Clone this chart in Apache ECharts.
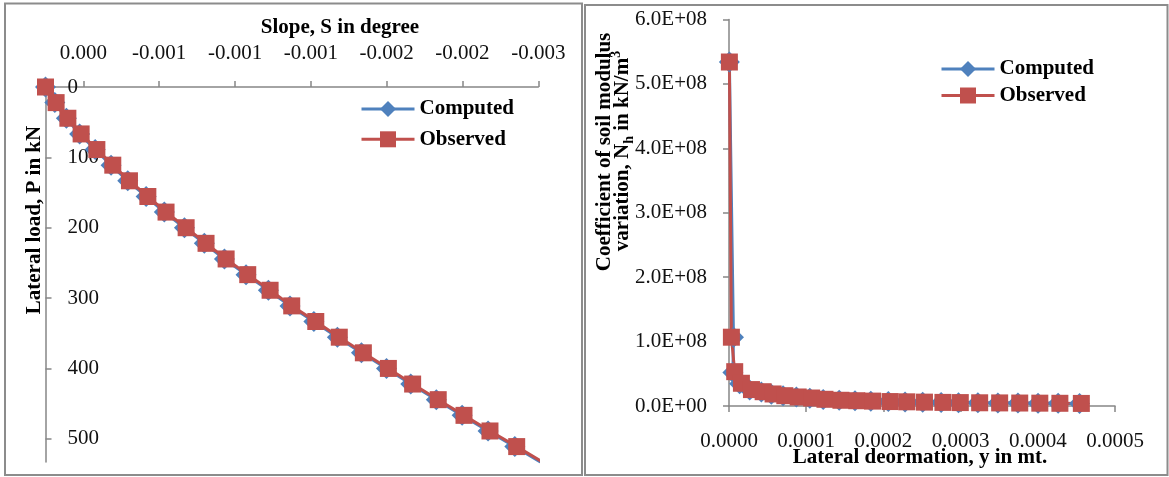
<!DOCTYPE html>
<html>
<head>
<meta charset="utf-8">
<script src="https://cdn.jsdelivr.net/npm/echarts@6/dist/echarts.min.js"></script>
<style>
html,body{margin:0;padding:0;background:#fff;}
#c{width:1169px;height:477px;}
</style>
</head>
<body>
<div id="c"></div>
<script>
// ---- Left chart: lateral load vs slope ----
const loadP = [0, 22.2, 44.4, 66.7, 88.9, 111.1, 133.3, 155.6, 177.8, 200.0, 222.2, 244.4, 266.7, 288.9, 311.1, 333.3, 355.6, 377.8, 400.0, 422.2, 444.4, 466.7, 488.9, 511.1, 533.3];
const slopeObserved = [0.0000, -0.000056, -0.000118, -0.000188, -0.000271, -0.000355, -0.000443, -0.000540, -0.000636, -0.000742, -0.000847, -0.000953, -0.001067, -0.001185, -0.001299, -0.001426, -0.001550, -0.001677, -0.001809, -0.001937, -0.002072, -0.002208, -0.002345, -0.002486, -0.002623];
const slopeComputed = [0.0000, -0.000049, -0.000110, -0.000180, -0.000262, -0.000346, -0.000434, -0.000531, -0.000627, -0.000733, -0.000838, -0.000944, -0.001058, -0.001176, -0.001290, -0.001416, -0.001540, -0.001667, -0.001799, -0.001927, -0.002062, -0.002198, -0.002335, -0.002476, -0.002613];
const slopeTickValues = [-0.0002, -0.0006, -0.0010, -0.0014, -0.0018, -0.0022, -0.0026];
const slopeTickLabels = ['0.000', '-0.001', '-0.001', '-0.001', '-0.002', '-0.002', '-0.003'];
const loadTickValues = [0, 100, 200, 300, 400, 500];
const loadTickLabels = ['0', '100', '200', '300', '400', '500'];

// ---- Right chart: Nh vs lateral deformation ----
const deflObserved = [0.0000005, 0.0000031, 0.0000074, 0.0000161, 0.0000291, 0.0000442, 0.0000571, 0.0000723, 0.0000896, 0.0001070, 0.0001243, 0.0001450, 0.0001655, 0.0001860, 0.0002087, 0.0002304, 0.0002532, 0.0002771, 0.0002996, 0.0003247, 0.0003506, 0.0003766, 0.0004026, 0.0004286, 0.0004564];
const nhObserved = [5.34e8, 1.068e8, 5.33e7, 3.53e7, 2.55e7, 2.22e7, 1.87e7, 1.60e7, 1.40e7, 1.24e7, 1.04e7, 8.9e6, 8.2e6, 7.6e6, 6.9e6, 6.5e6, 6.0e6, 5.6e6, 5.3e6, 5.0e6, 4.8e6, 4.6e6, 4.4e6, 4.2e6, 4.0e6];
const deflComputed = [0.0000005, 0.0000058, 0.0000050, 0.0000138, 0.0000268, 0.0000419, 0.0000548, 0.0000700, 0.0000873, 0.0001047, 0.0001220, 0.0001427, 0.0001632, 0.0001837, 0.0002064, 0.0002281, 0.0002509, 0.0002748, 0.0002973, 0.0003224, 0.0003483, 0.0003743, 0.0004003, 0.0004263, 0.0004541];
const nhComputed = [5.34e8, 1.068e8, 5.20e7, 3.45e7, 2.50e7, 2.18e7, 1.84e7, 1.58e7, 1.38e7, 1.22e7, 1.02e7, 8.8e6, 8.1e6, 7.5e6, 6.8e6, 6.4e6, 5.9e6, 5.5e6, 5.2e6, 4.9e6, 4.7e6, 4.5e6, 4.3e6, 4.1e6, 3.9e6];
const deflTickLabels = ['0.0000', '0.0001', '0.0002', '0.0003', '0.0004', '0.0005'];
const nhTickLabels = ['0.0E+00', '1.0E+08', '2.0E+08', '3.0E+08', '4.0E+08', '5.0E+08', '6.0E+08'];

const seriesNames = ['Computed', 'Observed'];
const FONT = '"Liberation Serif", "Times New Roman", serif';
const AXIS_COLOR = '#868686';
const BLUE = '#4F81BD';
const RED = '#C0504D';

function pickLabel(values, labels, v) {
  for (let i = 0; i < values.length; i++) {
    if (Math.abs(values[i] - v) < 1e-9 * Math.max(1, Math.abs(v))) return labels[i];
  }
  return '';
}

// measure text widths for the composed (sub/superscript) axis title
const mctx = document.createElement('canvas').getContext('2d');
function tw(t, size) { mctx.font = 'bold ' + size + 'px ' + FONT; return mctx.measureText(t).width; }
const t1 = 'variation, N', t2 = 'h', t3 = ' in kN/m', t4 = '3';
const w1 = tw(t1, 21), w2 = tw(t2, 14), w3 = tw(t3, 21), w4 = tw(t4, 14);
const wTot = w1 + w2 + w3 + w4;
const x0 = -wTot / 2;
const titleText = (text, x, y, size) => ({
  type: 'text', silent: true, x: x, y: y,
  style: { text: text, fontFamily: FONT, fontWeight: 'bold', fontSize: size, fill: '#000', align: 'left', verticalAlign: 'middle' }
});

const labelStyle = { fontFamily: FONT, fontSize: 21, color: '#111' };
const lineAxis = { show: true, onZero: false, lineStyle: { color: AXIS_COLOR, width: 1.5 } };
const tickStyle = { color: AXIS_COLOR, width: 1.5 };
const legendText = { fontFamily: FONT, fontWeight: 'bold', fontSize: 21, color: '#000', lineHeight: 20 };

const chart = echarts.init(document.getElementById('c'), null, { renderer: 'canvas' });
chart.setOption({
  animation: false,
  backgroundColor: '#fff',
  grid: [
    { left: 45.5, top: 87, width: 492.8, height: 375 },
    { left: 729, top: 19.5, width: 386, height: 386.5 }
  ],
  xAxis: [
    {
      type: 'value', gridIndex: 0, position: 'top', inverse: true,
      min: -0.0026, max: 0,
      axisLine: lineAxis,
      axisTick: { show: true, inside: false, length: 6, customValues: slopeTickValues, lineStyle: tickStyle },
      axisLabel: Object.assign({ customValues: slopeTickValues, margin: 23,
        formatter: v => pickLabel(slopeTickValues, slopeTickLabels, v) }, labelStyle),
      splitLine: { show: false }
    },
    {
      type: 'value', gridIndex: 1, position: 'bottom',
      min: 0, max: 0.0005, interval: 0.0001,
      axisLine: lineAxis,
      axisTick: { show: true, inside: false, length: 6, lineStyle: tickStyle },
      axisLabel: Object.assign({ margin: 25,
        formatter: v => deflTickLabels[Math.round(v / 0.0001)] }, labelStyle),
      splitLine: { show: false }
    }
  ],
  yAxis: [
    {
      type: 'value', gridIndex: 0, position: 'left', inverse: true,
      min: 0, max: 533,
      axisLine: lineAxis,
      axisTick: { show: true, inside: true, length: 6, customValues: loadTickValues, lineStyle: tickStyle },
      axisLabel: Object.assign({ inside: true, margin: 22, customValues: loadTickValues,
        formatter: v => pickLabel(loadTickValues, loadTickLabels, v) }, labelStyle),
      splitLine: { show: false }
    },
    {
      type: 'value', gridIndex: 1, position: 'left',
      min: 0, max: 6e8, interval: 1e8,
      axisLine: lineAxis,
      axisTick: { show: true, inside: false, length: 6, lineStyle: tickStyle },
      axisLabel: Object.assign({ margin: 22,
        formatter: v => nhTickLabels[Math.round(v / 1e8)] }, labelStyle),
      splitLine: { show: false }
    }
  ],
  legend: [
    {
      orient: 'vertical', left: 355, top: 93.5, itemWidth: 53, itemHeight: 20, itemGap: 9.3,
      data: seriesNames, lineStyle: { width: 3 }, textStyle: legendText
    },
    {
      orient: 'vertical', left: 935, top: 53.5, itemWidth: 53, itemHeight: 20, itemGap: 5.5,
      data: seriesNames, lineStyle: { width: 3 }, textStyle: legendText
    }
  ],
  series: [
    {
      name: seriesNames[0], type: 'line', xAxisIndex: 0, yAxisIndex: 0,
      data: slopeComputed.map((s, i) => [s, loadP[i]]),
      symbol: 'diamond', symbolSize: 21, color: BLUE,
      lineStyle: { width: 3, color: BLUE }, itemStyle: { color: BLUE }, clip: true
    },
    {
      name: seriesNames[1], type: 'line', xAxisIndex: 0, yAxisIndex: 0,
      data: slopeObserved.map((s, i) => [s, loadP[i]]),
      symbol: 'rect', symbolSize: 17, color: RED,
      lineStyle: { width: 3, color: RED }, itemStyle: { color: RED }, clip: true
    },
    {
      name: seriesNames[0], type: 'line', xAxisIndex: 1, yAxisIndex: 1,
      data: deflComputed.map((d, i) => [d, nhComputed[i]]),
      symbol: 'diamond', symbolSize: 21, color: BLUE,
      lineStyle: { width: 3, color: BLUE }, itemStyle: { color: BLUE }, clip: true
    },
    {
      name: seriesNames[1], type: 'line', xAxisIndex: 1, yAxisIndex: 1,
      data: deflObserved.map((d, i) => [d, nhObserved[i]]),
      symbol: 'rect', symbolSize: 17, color: RED,
      lineStyle: { width: 3, color: RED }, itemStyle: { color: RED }, clip: true
    }
  ],
  graphic: [
    { type: 'rect', silent: true, shape: { x: 5, y: 3.5, width: 577, height: 471.5 },
      style: { fill: 'none', stroke: '#8c8c8c', lineWidth: 2 } },
    { type: 'rect', silent: true, shape: { x: 585, y: 5, width: 582.5, height: 470 },
      style: { fill: 'none', stroke: '#8c8c8c', lineWidth: 2 } },
    { type: 'text', silent: true, x: 340, y: 28,
      style: { text: 'Slope, S in degree', fontFamily: FONT, fontWeight: 'bold', fontSize: 21,
        fill: '#000', align: 'center', verticalAlign: 'middle' } },
    { type: 'text', silent: true, x: 35, y: 220, rotation: Math.PI / 2,
      style: { text: 'Lateral load, P in kN', fontFamily: FONT, fontWeight: 'bold', fontSize: 21,
        fill: '#000', align: 'center', verticalAlign: 'middle' } },
    { type: 'text', silent: true, x: 920, y: 458,
      style: { text: 'Lateral deormation, y in mt.', fontFamily: FONT, fontWeight: 'bold', fontSize: 21,
        fill: '#000', align: 'center', verticalAlign: 'middle' } },
    { type: 'text', silent: true, x: 604.5, y: 152, rotation: Math.PI / 2,
      style: { text: 'Coefficient of soil modulus', fontFamily: FONT, fontWeight: 'bold', fontSize: 21,
        fill: '#000', align: 'center', verticalAlign: 'middle' } },
    {
      type: 'group', silent: true, x: 623, y: 151, rotation: Math.PI / 2,
      children: [
        titleText(t1, x0, 0, 21),
        titleText(t2, x0 + w1, 6, 14),
        titleText(t3, x0 + w1 + w2, 0, 21),
        titleText(t4, x0 + w1 + w2 + w3, -7, 14)
      ]
    }
  ]
});
</script>
</body>
</html>
